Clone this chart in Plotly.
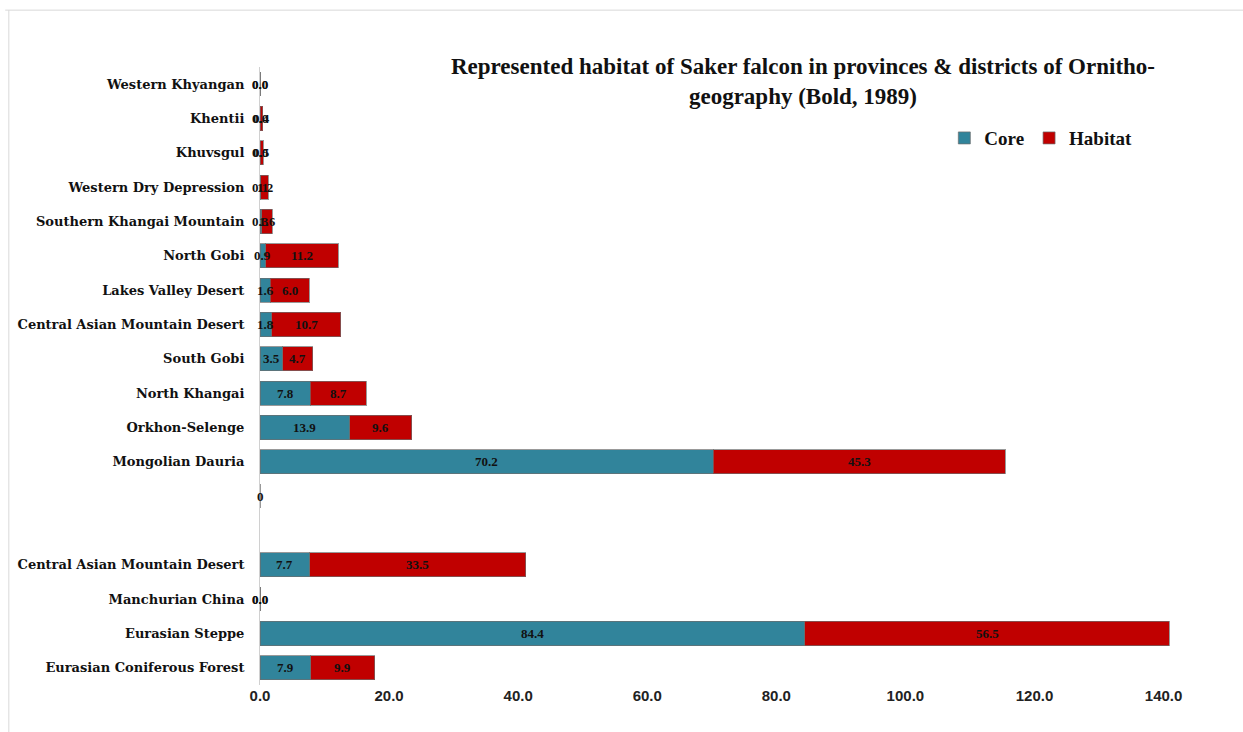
import plotly.graph_objects as go

# rows listed top to bottom ("" = blank separator rows)
categories = [
    "Western Khyangan", "Khentii", "Khuvsgul", "Western Dry Depression",
    "Southern Khangai Mountain", "North Gobi", "Lakes Valley Desert",
    "Central Asian Mountain Desert", "South Gobi", "North Khangai",
    "Orkhon-Selenge", "Mongolian Dauria", "", "",
    "Central Asian Mountain Desert", "Manchurian China", "Eurasian Steppe",
    "Eurasian Coniferous Forest",
]
core = [0.0, 0.0, 0.0, 0.1, 0.3, 0.9, 1.6, 1.8, 3.5, 7.8, 13.9, 70.2,
        0, None, 7.7, 0.0, 84.4, 7.9]
habitat = [0.0, 0.4, 0.5, 1.2, 1.6, 11.2, 6.0, 10.7, 4.7, 8.7, 9.6, 45.3,
           None, None, 33.5, 0.0, 56.5, 9.9]
xticks = [0, 20, 40, 60, 80, 100, 120, 140]

rows = list(range(len(categories)))
CORE_C = "#31849B"
HAB_C = "#C00000"
line = dict(color="rgba(110,110,110,0.7)", width=1)

fig = go.Figure()
fig.add_trace(go.Bar(y=rows, x=core, orientation="h",
                     name="<b>Core</b>", marker=dict(color=CORE_C, line=line)))
fig.add_trace(go.Bar(y=rows, x=habitat, orientation="h",
                     name="<b>Habitat</b>", marker=dict(color=HAB_C, line=line)))

lab_font = dict(family="Liberation Serif", size=13, color="#111111")
annots = []
for i, (c, h) in enumerate(zip(core, habitat)):
    if c is not None:
        txt = "0" if h is None else f"{c:.1f}"
        annots.append(dict(x=c / 2, y=i, xref="x", yref="y", text=f"<b>{txt}</b>",
                           showarrow=False, font=lab_font, xanchor="center", yanchor="middle"))
    if h is not None:
        annots.append(dict(x=c + h / 2, y=i, xref="x", yref="y", text=f"<b>{h:.1f}</b>",
                           showarrow=False, font=lab_font, xanchor="center", yanchor="middle"))

fig.update_layout(
    width=1243, height=732,
    margin=dict(l=260, r=73, t=67, b=47),
    barmode="stack", bargap=0.3,
    plot_bgcolor="white", paper_bgcolor="white",
    title=dict(text="<b>Represented habitat of Saker falcon in provinces & districts of Ornitho-<br>geography (Bold, 1989)</b>",
               x=0.646, xanchor="center", y=0.899, yanchor="middle",
               font=dict(family="Liberation Serif", size=23, color="#111111")),
    legend=dict(orientation="h", x=0.752, xanchor="left", y=0.885, yanchor="middle",
                font=dict(family="Liberation Serif", size=19, color="#111111"),
                bgcolor="rgba(0,0,0,0)", traceorder="normal", itemwidth=30),
    showlegend=True,
    annotations=annots,
    xaxis=dict(range=[0, 141], tickvals=xticks, ticktext=[f"<b>{v:.1f}</b>" for v in xticks],
               showgrid=False, zeroline=False, showline=False, ticks="",
               tickfont=dict(family="Liberation Sans", size=15, color="#222222")),
    yaxis=dict(range=[len(categories) - 0.5, -0.5], tickvals=rows,
               ticktext=[f"<b>{c}</b>" if c else "" for c in categories],
               showgrid=False, zeroline=False, showline=True, linecolor="#d0d0d0", linewidth=1,
               ticks="", ticklabelstandoff=12,
               tickfont=dict(family="DejaVu Serif", size=13, color="#111111")),
    shapes=[
        dict(type="line", xref="paper", yref="paper", x0=-0.28, x1=1.1, y0=1.092, y1=1.092,
             line=dict(color="#d9d9d9", width=1)),
        dict(type="line", xref="paper", yref="paper", x0=-0.276, x1=-0.276, y0=1.092, y1=-0.1,
             line=dict(color="#d9d9d9", width=1)),
    ],
)
fig.write_html("out.html")
